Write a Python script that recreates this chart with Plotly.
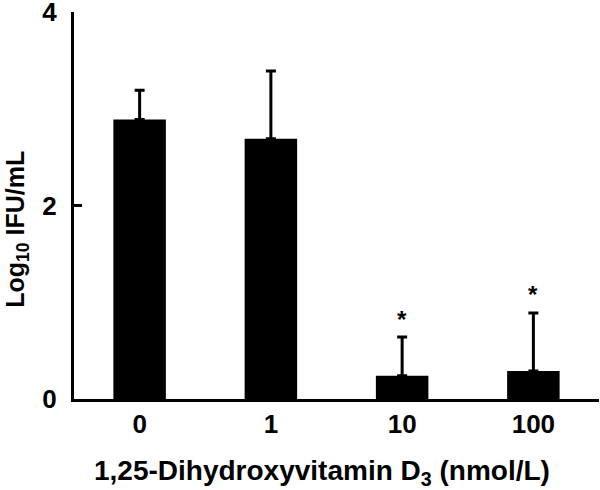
import plotly.graph_objects as go

categories = ["0", "1", "10", "100"]
means = [2.89, 2.69, 0.24, 0.29]
errors_up = [0.30, 0.70, 0.40, 0.60]
significant = [False, False, True, True]

y_ticks = [0, 2, 4]

FONT = "Liberation Sans, Arial, sans-serif"

fig = go.Figure()
fig.add_trace(go.Bar(
    x=categories,
    y=means,
    marker=dict(color="black", line=dict(width=0)),
    error_y=dict(type="data", array=errors_up, arrayminus=[0] * len(errors_up),
                 symmetric=False, color="black", thickness=3, width=5),
    width=0.4,
))

for i, (m, e, s) in enumerate(zip(means, errors_up, significant)):
    if s:
        fig.add_annotation(x=i, y=m + e, xref="x", yref="y", text="<b>*</b>",
                           showarrow=False, xanchor="center", yanchor="middle",
                           yshift=18,
                           font=dict(family=FONT, size=24, color="black"))

fig.add_annotation(xref="paper", yref="paper", x=-0.108, y=0.438,
                   text="<b>Log<sub>10</sub> IFU/mL</b>", textangle=-90,
                   showarrow=False, xanchor="center", yanchor="middle",
                   borderpad=0,
                   font=dict(family=FONT, size=25, color="black"))
fig.add_annotation(xref="paper", yref="paper", x=0.472, y=-0.19,
                   text="<b>1,25-Dihydroxyvitamin D<sub>3</sub> (nmol/L)</b>",
                   showarrow=False, xanchor="center", yanchor="middle",
                   borderpad=0,
                   font=dict(family=FONT, size=28, color="black"))

fig.update_layout(
    width=600, height=490,
    margin=dict(l=74, r=1, t=12, b=91),
    paper_bgcolor="white", plot_bgcolor="white",
    showlegend=False,
    font=dict(family=FONT, color="black"),
    xaxis=dict(
        type="category", range=[-0.5, 3.5], automargin=False,
        showline=True, linecolor="black", linewidth=3,
        ticks="", showgrid=False, zeroline=False,
        tickfont=dict(family=FONT, size=26, color="black"),
        ticklabelstandoff=0,
        tickprefix="<b>", ticksuffix="</b>",
    ),
    yaxis=dict(
        range=[0, 4], tickvals=y_ticks, automargin=False,
        ticktext=[f"<b>{v}</b>" for v in y_ticks],
        showline=True, linecolor="black", linewidth=3,
        ticks="inside", ticklen=8, tickwidth=3, tickcolor="black",
        showgrid=False, zeroline=False,
        tickfont=dict(family=FONT, size=26, color="black"),
        ticklabelstandoff=9, ticklabeloverflow="allow",
    ),
)

fig.write_html("out.html", config={"displayModeBar": False},
               post_script="document.body.style.margin='0';")
